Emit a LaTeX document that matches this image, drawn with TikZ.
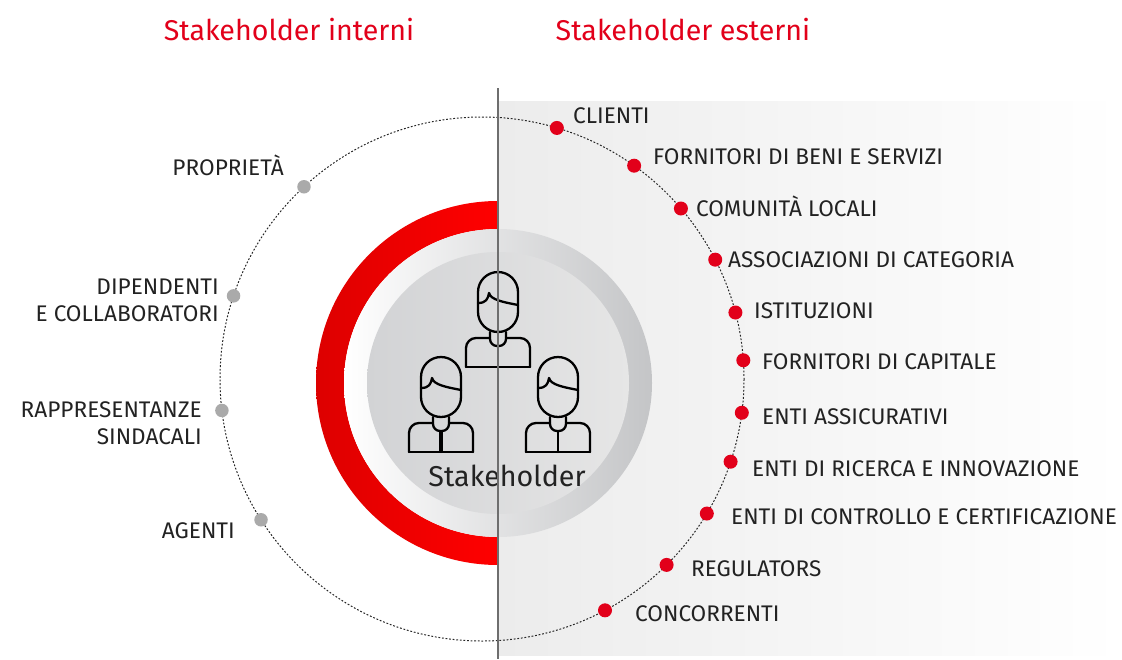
\documentclass[tikz,border=0pt]{standalone}
\usepackage{fontspec}
\setmainfont{Fira Sans}

\definecolor{sred}{HTML}{E2001A}
\definecolor{ringdark}{HTML}{DC0000}
\definecolor{ringred}{HTML}{FF0000}
\definecolor{txtgrey}{HTML}{222222}
\definecolor{dotgrey}{HTML}{AAAAAA}
\definecolor{panel}{HTML}{ECECEC}
\definecolor{divline}{HTML}{6E6E6E}
\definecolor{discedge}{HTML}{C4C5C7}
\definecolor{discleft}{HTML}{D2D3D5}
\definecolor{discmid}{HTML}{F3F3F3}
\definecolor{discright}{HTML}{E6E6E6}

\begin{document}
\begin{tikzpicture}
                    [x=1pt,y=-1pt,
                     lab/.style={font=\fontsize{22.6}{27}\selectfont,text=txtgrey,inner sep=0pt},
                     title/.style={font=\fontsize{28.6}{32}\selectfont,text=sred,inner sep=0pt},
                     rdot/.style={circle,fill=sred,inner sep=0pt,minimum size=14pt},
                     gdot/.style={circle,fill=dotgrey,inner sep=0pt,minimum size=13.5pt},
                     orbit/.style={draw=black!85,line width=1pt,dash pattern=on 1.8pt off 1.8pt},
                     figline/.style={line width=2.3pt,line join=round,line cap=round},
                     person/.pic={
                        \draw[rounded corners=20] (-20,0) rectangle (20,60);
                        \draw (-20,31) .. controls (-12,31) and (-10,27) .. (-9,21)
                              .. controls (-7,28) and (5,30) .. (20,33);
                        \draw[rounded corners=7] (-8,60) -- (-8,74) -- (8,74) -- (8,60);
                        \draw[rounded corners=10] (-8,66) -- (-32,66) -- (-32,95);
                        \draw[rounded corners=10] (8,66) -- (32,66) -- (32,95);
                        \draw (-32,95) -- (32,95);
                        \draw (0,74) -- (0,95);
                     }]

                    \useasboundingbox (0,0) rectangle (1122,659);
                    \coordinate (ctr) at (482,379);
                    \coordinate (hub) at (498,383);

                    % grey panel of the external side
                    \shade[left color=panel,right color=white] (498,101) rectangle (1122,655);
                    \draw[orbit] (ctr) circle (262);

                    % red half ring
                    \begin{scope}[even odd rule]
                        \clip (hub) circle (182) (hub) circle (154);
                        \shade[left color=ringdark,right color=ringred] (310,195) rectangle (498,575);
                    \end{scope}

                    \shade[left color=white,right color=discedge] (hub) circle (154);
                    \shade[left color=discleft,middle color=discmid,right color=discright] (hub) circle (131);

                    % the three persons
                    \coordinate (pt) at (498,272);
                    \coordinate (pl) at (441,357);
                    \coordinate (pr) at (558,357);
                    \pic[figline] at (pt) {person};
                    \pic[figline] at (pl) {person};
                    \pic[figline] at (pr) {person};
                    \draw[line width=4pt] ([yshift=-74pt]pl) -- ([yshift=-95pt]pl);

                    \node[font=\fontsize{28.7}{32}\selectfont,text=txtgrey,inner sep=0pt] (stk) at (507,476) {Stakeholder};

                    \coordinate (dtop) at (498,88);
                    \coordinate (dbot) at (498,659);
                    \draw[divline,line width=1.3pt] (dtop) -- (dbot);

                    % internal stakeholders
                    \node[gdot] (i1) at ([shift={(-132.8:262)}]ctr) {};
                    \node[lab,anchor=base east] (li1) at (284,175.8) {PROPRIETÀ};
                    \node[gdot] (i2) at ([shift={(-161.5:262)}]ctr) {};
                    \node[lab,anchor=east,align=right] (li2) at (219,300.5) {DIPENDENTI\\E COLLABORATORI};
                    \node[gdot] (i3) at ([shift={(173.1:262)}]ctr) {};
                    \node[lab,anchor=east,align=right] (li3) at (202,423) {RAPPRESENTANZE\\SINDACALI};
                    \node[gdot] (i4) at ([shift={(147.5:262)}]ctr) {};
                    \node[lab,anchor=base east] (li4) at (235,538.8) {AGENTI};

                    % external stakeholders
                    \foreach \a/\lx/\ly/\txt [count=\i] in
                        {-73.4/573/123.8/CLIENTI,
                         -54.5/653/164.8/FORNITORI DI BENI E SERVIZI,
                         -40.6/696/216.8/COMUNITÀ LOCALI,
                         -27.1/728/267.8/ASSOCIAZIONI DI CATEGORIA,
                         -14.7/754/318.8/ISTITUZIONI,
                         -4.1/762/369.8/FORNITORI DI CAPITALE,
                         7.4/762/424.3/ENTI ASSICURATIVI,
                         18.4/752/476.8/ENTI DI RICERCA E INNOVAZIONE,
                         30.9/731/524.8/ENTI DI CONTROLLO E CERTIFICAZIONE,
                         45.2/691/576.8/REGULATORS,
                         62.0/635/621.8/CONCORRENTI}
                    {
                        \node[rdot] (e\i) at ([shift={(\a:262)}]ctr) {};
                        \node[lab,anchor=base west] (le\i) at (\lx,\ly) {\txt};
                    }

                    \node[title] (tint) at (289,30) {Stakeholder interni};
                    \node[title] (text) at (683,30) {Stakeholder esterni};
                \end{tikzpicture}
\end{document}
